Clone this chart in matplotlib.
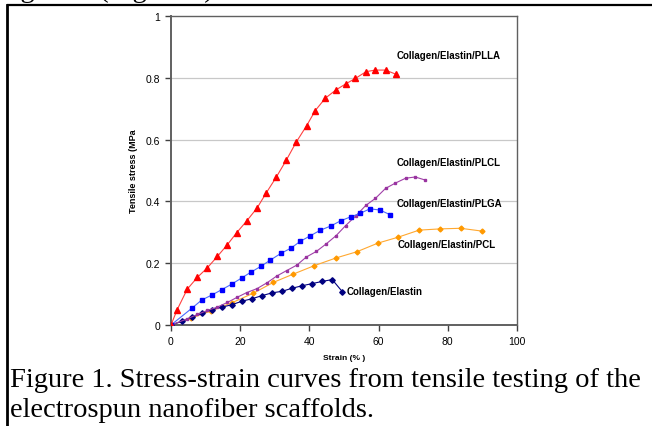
import matplotlib
matplotlib.use("Agg")
import matplotlib.pyplot as plt
from matplotlib.lines import Line2D

# ---- data ----
plla_x = [0, 1.8, 4.7, 7.6, 10.5, 13.4, 16.3, 19.0, 21.9, 24.9, 27.5, 30.4, 33.3, 36.2,
          39.2, 41.7, 44.6, 47.7, 50.6, 53.3, 56.4, 59.1, 62.0, 64.9]
plla_y = [0, 0.050, 0.116, 0.154, 0.185, 0.222, 0.260, 0.299, 0.337, 0.379, 0.427, 0.478,
          0.533, 0.592, 0.645, 0.694, 0.734, 0.761, 0.781, 0.798, 0.820, 0.825, 0.825, 0.812]

plga_x = [0, 6.0, 8.9, 11.8, 14.6, 17.5, 20.4, 23.1, 26.0, 28.7, 31.8, 34.7, 37.4, 40.3,
          43.2, 46.1, 49.0, 51.9, 54.6, 57.5, 60.4, 63.3]
plga_y = [0, 0.054, 0.081, 0.097, 0.114, 0.132, 0.152, 0.171, 0.190, 0.210, 0.232, 0.249,
          0.271, 0.289, 0.307, 0.320, 0.337, 0.350, 0.361, 0.376, 0.372, 0.357]

plcl_x = [0, 4.7, 7.6, 10.5, 13.4, 16.3, 19.0, 21.9, 24.9, 27.8, 30.5, 33.4, 36.4, 39.1,
          42.0, 44.8, 47.7, 50.5, 53.4, 56.3, 59.1, 62.0, 64.8, 67.8, 70.6, 73.5]
plcl_y = [0, 0.020, 0.034, 0.047, 0.058, 0.073, 0.089, 0.105, 0.118, 0.137, 0.158, 0.176,
          0.194, 0.220, 0.238, 0.262, 0.289, 0.322, 0.353, 0.387, 0.410, 0.442, 0.459,
          0.475, 0.479, 0.469]

pcl_x = [0, 5.8, 11.7, 17.6, 23.8, 29.6, 35.4, 41.4, 47.7, 53.7, 59.8, 65.6, 71.7, 77.7,
         83.7, 89.8]
pcl_y = [0, 0.022, 0.046, 0.072, 0.103, 0.138, 0.165, 0.192, 0.217, 0.237, 0.265, 0.284,
         0.307, 0.311, 0.313, 0.304]

ce_x = [0, 3.2, 6.1, 9.0, 11.9, 14.8, 17.7, 20.5, 23.4, 26.3, 29.2, 32.1, 35.0, 37.9,
        40.8, 43.7, 46.6, 49.5]
ce_y = [0, 0.012, 0.026, 0.038, 0.050, 0.058, 0.066, 0.077, 0.085, 0.095, 0.104, 0.109,
        0.119, 0.127, 0.134, 0.141, 0.147, 0.108]

series_labels = ["Collagen/Elastin/PLLA", "Collagen/Elastin/PLCL", "Collagen/Elastin/PLGA",
                 "Collagen/Elastin/PCL", "Collagen/Elastin"]
label_pos = [(65.2, 0.874), (65.2, 0.527), (65.2, 0.395), (65.5, 0.262), (50.7, 0.110)]

x_ticks = [0, 20, 40, 60, 80, 100]
y_ticks = [0, 0.2, 0.4, 0.6, 0.8, 1.0]
y_tick_labels = ["0", "0.2", "0.4", "0.6", "0.8", "1"]

caption1 = "Figure 1. Stress-strain curves from tensile testing of the"
caption2 = "electrospun nanofiber scaffolds."
top_fragment = "figure 1 (Figure 1)."

# ---- figure ----
fig = plt.figure(figsize=(6.52, 4.27), dpi=100)
W, H = 652, 427

# document box
fig.add_artist(Line2D([8 / W, 1.0], [1 - 6 / H, 1 - 6 / H], color="black", lw=1.6))
fig.add_artist(Line2D([7 / W, 7 / W], [0, 1 - 6 / H], color="black", lw=2.0))

fig.text(3 / W, 1 + 3.5 / H, top_fragment, family="Liberation Serif", fontsize=20.5,
         va="baseline", ha="left")

ax = fig.add_axes([171 / W, 1 - 326 / H, (517 - 171) / W, (326 - 17) / H])

ax.plot(plla_x, plla_y, color="#ff4040", lw=0.8, marker="^", ms=4.0,
        mfc="#ff0000", mec="#ff0000", zorder=5)
ax.plot(plcl_x, plcl_y, color="#a040a8", lw=0.8, marker="s", ms=1.8,
        mfc="#9933a0", mec="#9933a0", zorder=4)
ax.plot(plga_x, plga_y, color="#4a6aff", lw=0.8, marker="s", ms=3.0,
        mfc="#0000ff", mec="#0000ff", zorder=4)
ax.plot(pcl_x, pcl_y, color="#ffa830", lw=0.8, marker="D", ms=2.5,
        mfc="#ff9900", mec="#ff9900", zorder=3)
ax.plot(ce_x, ce_y, color="#000080", lw=0.8, marker="D", ms=2.8,
        mfc="#000080", mec="#000080", zorder=3)

for lab, (lx, ly) in zip(series_labels, label_pos):
    ax.text(lx, ly, lab, family="Liberation Sans", fontweight="bold", fontsize=7,
            va="center", ha="left")

ax.set_xlim(0, 100)
ax.set_ylim(0, 1)
ax.set_xticks(x_ticks)
ax.set_xticklabels([str(t) for t in x_ticks], family="Liberation Sans", fontsize=7.5)
ax.set_yticks(y_ticks)
ax.set_yticklabels(y_tick_labels, family="Liberation Sans", fontsize=7.5)
ax.tick_params(direction="out", length=4, width=1, color="#404040", pad=4)

for s in ax.spines.values():
    s.set_color("#606060")
    s.set_linewidth(1.0)
ax.spines["left"].set_linewidth(1.4)
ax.spines["bottom"].set_linewidth(1.4)

for gy in y_ticks[1:-1]:
    ax.axhline(gy, color="#c8c8c8", lw=0.9, zorder=0)

ax.set_xlabel("Strain (% )", family="Liberation Sans", fontweight="bold", fontsize=6,
              labelpad=6)
ax.set_ylabel("Tensile stress (MPa", family="Liberation Sans", fontweight="bold",
              fontsize=6.5)
ax.yaxis.set_label_coords((133 - 171) / 346 + 0.015, 0.50)

fig.text(10 / W, 1 - 387 / H, caption1, family="Liberation Serif", fontsize=20.5,
         va="baseline", ha="left")
fig.text(10 / W, 1 - 417 / H, caption2, family="Liberation Serif", fontsize=20.5,
         va="baseline", ha="left")

fig.savefig("out.png", dpi=100)
